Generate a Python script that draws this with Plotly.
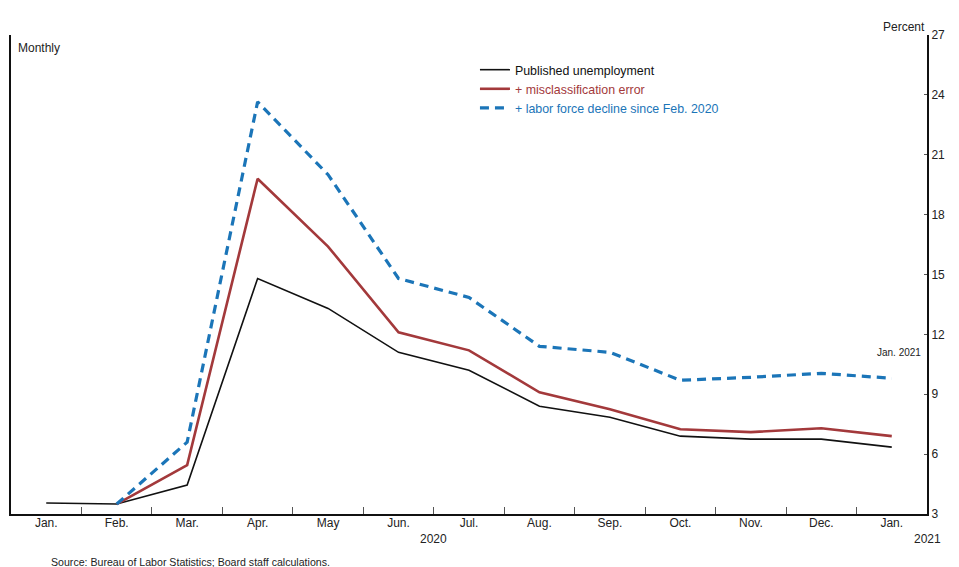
import plotly.graph_objects as go

months = ["Jan.", "Feb.", "Mar.", "Apr.", "May", "Jun.", "Jul.", "Aug.", "Sep.", "Oct.", "Nov.", "Dec.", "Jan."]
published = [3.55, 3.5, 4.45, 14.8, 13.3, 11.1, 10.2, 8.4, 7.85, 6.9, 6.75, 6.75, 6.35]
misclass = [None, 3.5, 5.45, 19.8, 16.4, 12.1, 11.2, 9.1, 8.25, 7.25, 7.1, 7.3, 6.9]
labor_force = [None, 3.5, 6.6, 23.65, 20.0, 14.8, 13.85, 11.4, 11.1, 9.7, 9.85, 10.05, 9.8]
y_ticks = [3, 6, 9, 12, 15, 18, 21, 24, 27]

BLACK = "#111111"
RED = "#a3393b"
BLUE = "#1b75b8"
FONT = "Liberation Sans, Arial, sans-serif"

x = list(range(len(months)))

fig = go.Figure()
fig.add_trace(go.Scatter(x=x, y=published, mode="lines", name="Published unemployment",
                         line=dict(color=BLACK, width=1.6)))
fig.add_trace(go.Scatter(x=x, y=misclass, mode="lines",
                         name="<span style='color:%s'>+ misclassification error</span>" % RED,
                         line=dict(color=RED, width=2.6)))
fig.add_trace(go.Scatter(x=x, y=labor_force, mode="lines",
                         name="<span style='color:%s'>+ labor force decline since Feb. 2020</span>" % BLUE,
                         line=dict(color=BLUE, width=3.2, dash="9px,6px")))

# invisible trace on secondary x-axis to carry the month-boundary ticks
fig.add_trace(go.Scatter(x=[-0.5, 12.5], y=[None, None], xaxis="x2", showlegend=False,
                         hoverinfo="skip", mode="lines"))

fig.update_layout(
    width=959, height=567,
    margin=dict(l=9, r=32, t=35, b=53),
    paper_bgcolor="white", plot_bgcolor="white",
    font=dict(family=FONT, size=12, color="#222222"),
    showlegend=True,
    legend=dict(x=0.5065, y=0.958, xanchor="left", yanchor="top",
                bgcolor="rgba(0,0,0,0)", font=dict(size=12.4, color="#111111"),
                tracegroupgap=0, itemwidth=30),
    xaxis=dict(range=[-0.5, 12.5], tickmode="array", tickvals=x, ticktext=months,
               ticks="", showline=True, linecolor="#111111", linewidth=2,
               ticklabelstandoff=-3,
               showgrid=False, zeroline=False, tickfont=dict(size=12, color="#222222")),
    xaxis2=dict(range=[-0.5, 12.5], overlaying="x", matches="x", tickmode="array",
                tickvals=[i + 0.5 for i in range(12)], ticks="inside", ticklen=7,
                tickcolor="#555555", tickwidth=1, showticklabels=False,
                showline=False, showgrid=False, zeroline=False, side="bottom"),
    yaxis=dict(range=[3, 27], side="right", tickmode="array", tickvals=y_ticks,
               ticks="inside", ticklen=3, tickcolor="#555555",
               showline=True, mirror=True, linecolor="#111111", linewidth=2,
               showgrid=False, zeroline=False, tickfont=dict(size=12, color="#222222")),
)

fig.add_annotation(text="Monthly", xref="paper", yref="paper", x=0.006, y=0.992,
                   xanchor="left", yanchor="top", showarrow=False,
                   font=dict(size=12, color="#222222"))
fig.add_annotation(text="Percent", xref="paper", yref="paper", x=1.0, y=1.0,
                   xanchor="right", yanchor="bottom", yshift=-1, showarrow=False,
                   font=dict(size=12, color="#222222"))
fig.add_annotation(text="2020", xref="x", yref="paper", x=5.5, y=0, yshift=-16,
                   xanchor="center", yanchor="top", showarrow=False,
                   font=dict(size=12, color="#222222"))
fig.add_annotation(text="2021", xref="x", yref="paper", x=12.5, y=0, yshift=-16,
                   xanchor="center", yanchor="top", showarrow=False,
                   font=dict(size=12, color="#222222"))
fig.add_annotation(text="Jan. 2021", xref="x", yref="y", x=12.5, y=11.1, xshift=-4,
                   xanchor="right", yanchor="middle", showarrow=False,
                   font=dict(size=10, color="#222222"))
fig.add_annotation(text="Source: Bureau of Labor Statistics; Board staff calculations.",
                   xref="paper", yref="paper", x=0.041, y=0, yshift=-40,
                   xanchor="left", yanchor="top", showarrow=False,
                   font=dict(size=10.6, color="#222222"))

fig.write_html("out.html", config={"displayModeBar": False},
               post_script="document.body.style.margin='0';")
